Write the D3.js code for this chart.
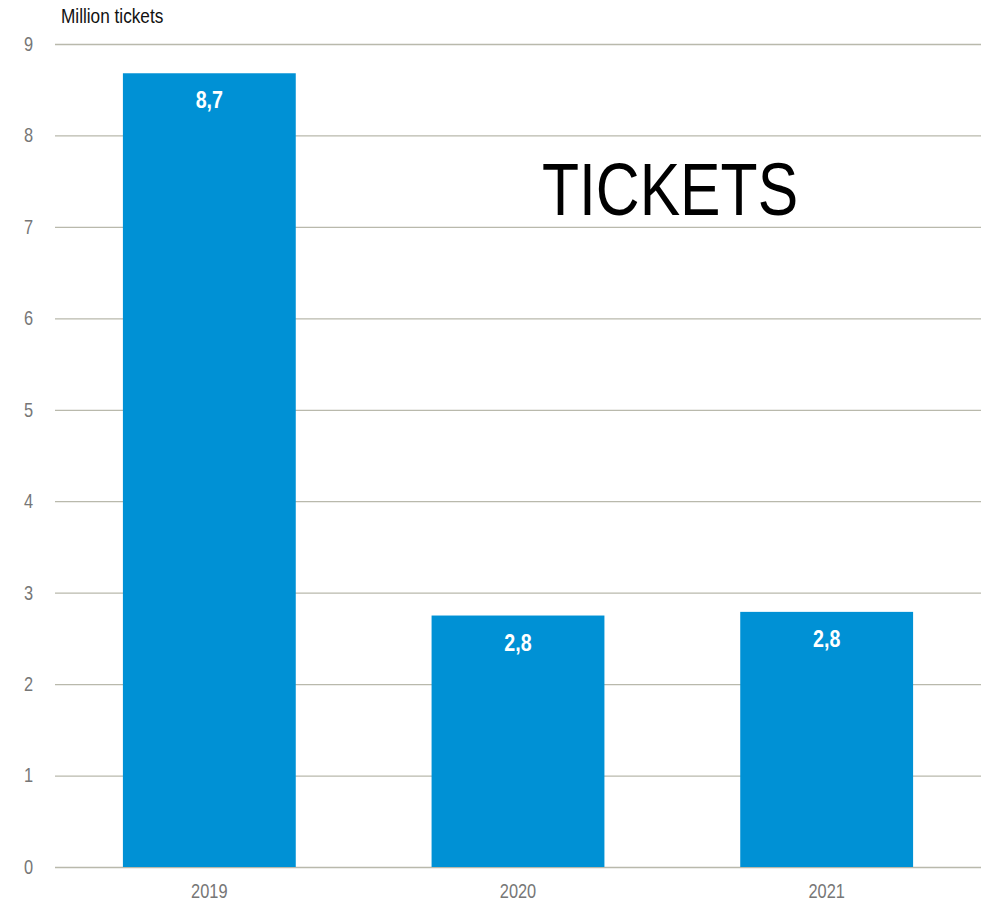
<!DOCTYPE html>
<html>
<head>
<meta charset="utf-8">
<script src="https://cdn.jsdelivr.net/npm/d3@7"></script>
<style>
  html, body { margin: 0; padding: 0; background: #ffffff; }
  svg { display: block; font-family: "Liberation Sans", Arial, sans-serif; }
</style>
</head>
<body>
<svg id="chart" width="981" height="903"></svg>
<script>
// Ticket sales per year, in million tickets
const years = ["2019", "2020", "2021"];
const tickets = [8.68, 2.75, 2.79];
const yTicks = [0, 1, 2, 3, 4, 5, 6, 7, 8, 9];
const unitLabel = "Million tickets";
const chartTitle = "TICKETS";

const width = 981, height = 903;
const margin = { top: 44, right: 0, bottom: 36, left: 55 };
const innerW = width - margin.left - margin.right;
const innerH = height - margin.top - margin.bottom;
const narrow = 0.82; // horizontal squeeze for a condensed look

const svg = d3.select("#chart");
const g = svg.append("g").attr("transform", `translate(${margin.left},${margin.top})`);

// squeeze a text element horizontally around its own anchor point
function condense(sel) {
  sel.each(function () {
    const t = d3.select(this);
    const tx = +t.attr("x") || 0;
    const ty = +t.attr("y") || 0;
    t.attr("x", 0).attr("y", 0)
     .attr("transform", `translate(${tx},${ty}) scale(${narrow},1)`);
  });
}

const x = d3.scaleBand()
  .domain(years)
  .range([0, innerW])
  .paddingInner(0.44)
  .paddingOuter(0.22);

const y = d3.scaleLinear()
  .domain([0, 9])
  .range([innerH, 0]);

const fmt = v => d3.format(".1f")(v).replace(".", ",");

// horizontal gridlines with tick labels on the left
const yAxis = d3.axisLeft(y)
  .tickValues(yTicks)
  .tickSize(-innerW)
  .tickPadding(22)
  .tickFormat(d3.format("d"));

const ya = g.append("g").call(yAxis);
ya.select(".domain").remove();
ya.selectAll(".tick line")
  .attr("stroke", "#b9b9ac")
  .attr("stroke-width", 1.3);
ya.selectAll(".tick text")
  .attr("fill", "#767676")
  .attr("font-size", 20)
  .call(condense);

// bars
g.selectAll("rect.bar")
  .data(tickets)
  .join("rect")
  .attr("class", "bar")
  .attr("x", (d, i) => x(years[i]))
  .attr("y", d => y(d))
  .attr("width", x.bandwidth())
  .attr("height", d => y(0) - y(d))
  .attr("fill", "#0091d5");

// value labels inside the bars
g.selectAll("text.val")
  .data(tickets)
  .join("text")
  .attr("class", "val")
  .attr("x", (d, i) => x(years[i]) + x.bandwidth() / 2)
  .attr("y", d => y(d) + 35)
  .attr("text-anchor", "middle")
  .attr("fill", "#ffffff")
  .attr("font-weight", "bold")
  .attr("font-size", 24)
  .text(d => fmt(d))
  .call(condense);

// category axis
const xa = g.append("g")
  .attr("transform", `translate(0,${innerH})`)
  .call(d3.axisBottom(x).tickSize(0).tickPadding(17));
xa.select(".domain").remove();
xa.selectAll(".tick text")
  .attr("fill", "#767676")
  .attr("font-size", 20)
  .call(condense);

// unit label above the axis
svg.append("text")
  .attr("x", 61)
  .attr("y", 23)
  .attr("fill", "#111111")
  .attr("font-size", 21)
  .text(unitLabel)
  .call(condense);

// chart title
svg.append("text")
  .attr("x", 670)
  .attr("y", 215)
  .attr("text-anchor", "middle")
  .attr("fill", "#000000")
  .attr("font-size", 74)
  .text(chartTitle)
  .call(condense);
</script>
</body>
</html>
